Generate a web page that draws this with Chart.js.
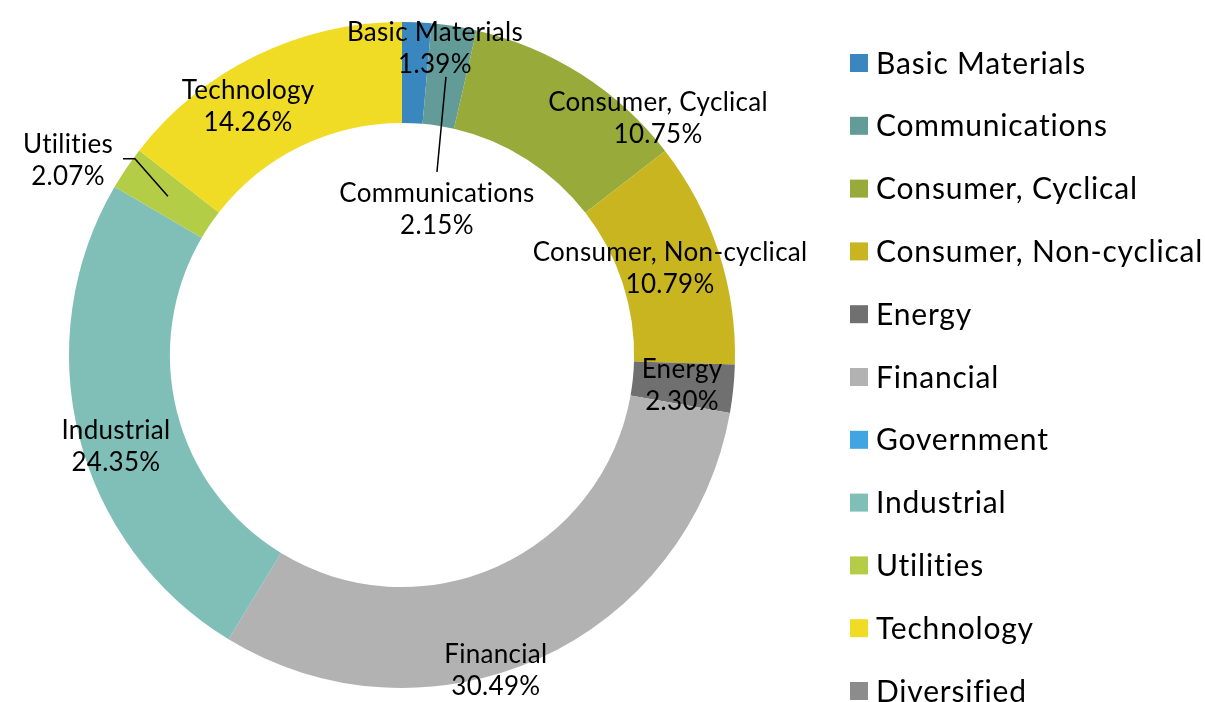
<!DOCTYPE html>
<html>
<head>
<meta charset="utf-8">
<script src="https://cdn.jsdelivr.net/npm/chart.js@4/dist/chart.umd.min.js"></script>
<style>
  html, body { margin: 0; padding: 0; background: #fff; overflow: hidden; }
  #wrap { width: 1205px; height: 702px; }
</style>
</head>
<body>
<div id="wrap"><canvas id="chart" width="1205" height="702"></canvas></div>
<script>
// sector weights in %
let sectors = ['Basic Materials', 'Communications', 'Consumer, Cyclical', 'Consumer, Non-cyclical',
  'Energy', 'Financial', 'Government', 'Industrial', 'Utilities', 'Technology', 'Diversified'];
let weights = [1.39, 2.15, 10.75, 10.79, 2.30, 30.49, 0, 24.35, 2.07, 14.26, 0];
let pctLabels = ['1.39%', '2.15%', '10.75%', '10.79%', '2.30%', '30.49%', '', '24.35%', '2.07%', '14.26%', ''];
let colors = ['#3a87c0', '#629b97', '#98aa3a', '#c9b520', '#707070', '#b2b2b2',
  '#42a4e0', '#80bfb8', '#b4cd47', '#f0dc24', '#8c8c8c'];

// where each data label sits, in units of the outer radius from the centre
let labelSpots = [[0.099, -0.919], [0.105, -0.438], [0.769, -0.709], [0.805, -0.258], [0.841, 0.093],
  [0.282, 0.949], null, [-0.859, 0.276], [-1.003, -0.583], [-0.462, -0.745], null];
// leader lines (same units)
let leaders = [
  [[0.132, -0.835], [0.105, -0.550]],
  [[-0.838, -0.589], [-0.802, -0.589], [-0.703, -0.477]]
];

const FONT = 'Lato, "Noto Sans", sans-serif';

// Function to draw data labels, leader lines and the legend
let labelPlugin = {
  id: 'labels',
  afterDraw(chart) {
    let ctx = chart.ctx;
    let arc = chart.getDatasetMeta(0).data[0];
    let cx = arc.x, cy = arc.y, r = arc.outerRadius;

    ctx.save();
    ctx.strokeStyle = '#000';
    ctx.lineWidth = 1.5;
    leaders.forEach(pts => {
      ctx.beginPath();
      pts.forEach((p, i) => {
        let x = cx + p[0] * r, y = cy + p[1] * r;
        if (i === 0) ctx.moveTo(x, y); else ctx.lineTo(x, y);
      });
      ctx.stroke();
    });

    ctx.fillStyle = '#000';
    ctx.font = '26px ' + FONT;
    ctx.letterSpacing = '0.3px';
    ctx.textAlign = 'center';
    ctx.textBaseline = 'middle';
    sectors.forEach((s, i) => {
      let spot = labelSpots[i];
      if (!spot) return;
      let x = cx + spot[0] * r, y = cy + spot[1] * r;
      ctx.fillText(s, x, y - 16);
      ctx.fillText(pctLabels[i], x, y + 16);
    });

    // legend
    ctx.font = '30px ' + FONT;
    ctx.letterSpacing = '0.8px';
    ctx.textAlign = 'left';
    sectors.forEach((s, i) => {
      let y = 63 + i * 62.8;
      ctx.fillStyle = colors[i];
      ctx.fillRect(850, y - 9, 18, 18);
      ctx.fillStyle = '#000';
      ctx.fillText(s, 876, y + 1);
    });
    ctx.restore();
  }
};

let ctx = document.getElementById('chart').getContext('2d');
let chart = new Chart(ctx, {
  type: 'doughnut',
  data: {
    labels: sectors,
    datasets: [{
      data: weights,
      backgroundColor: colors,
      borderWidth: 0
    }]
  },
  options: {
    responsive: false,
    animation: false,
    cutout: '69.7%',
    layout: { padding: { left: 69, right: 470, top: 22, bottom: 14 } },
    plugins: {
      legend: { display: false },
      tooltip: { enabled: false }
    }
  },
  plugins: [labelPlugin]
});
</script>
</body>
</html>
